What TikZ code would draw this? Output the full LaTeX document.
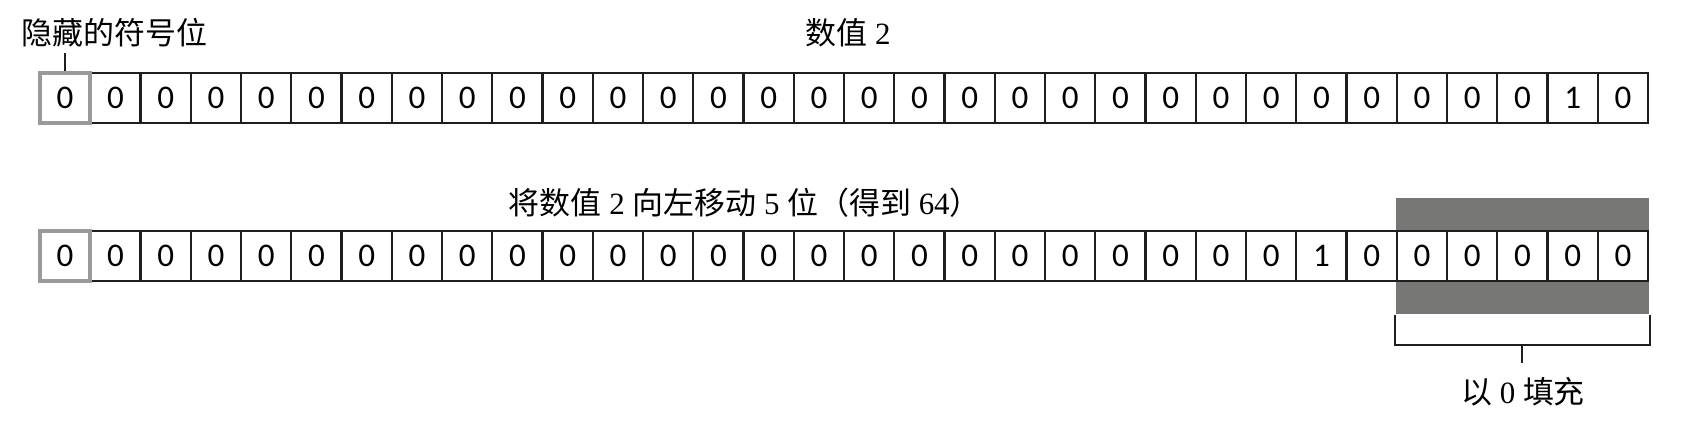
\documentclass[tikz,border=0pt]{standalone}
\usepackage{fontspec}
\setmainfont{Liberation Serif}
\newfontfamily\cjk{Noto Sans CJK SC}
\newfontfamily\bitfont{Carlito}
\usetikzlibrary{positioning,fit,backgrounds}
\definecolor{bitline}{HTML}{1E1E1E}
\definecolor{signgray}{HTML}{9A9A9A}
\definecolor{padgray}{HTML}{777876}

\begin{document}
\begin{tikzpicture}[
    x=0.01cm, y=-0.01cm,
    bit/.style={rectangle, draw=bitline, line width=0.7pt, fill=white,
      minimum size=0.5025cm, inner sep=0pt,
      font=\bitfont\fontsize{9.4}{10}\selectfont},
    signbit/.style={bit, draw=signgray, line width=1.1pt},
    lbl/.style={inner sep=0pt, font=\fontsize{8.8}{10}\selectfont},
    lien/.style={draw=bitline, line width=0.6pt}
  ]
    \useasboundingbox (0,0) rectangle (1698,430);

    % value 2
    \foreach \i in {1,...,31}
      \node[bit] (t\i) at (65.125+\i*50.25,98) {\ifnum\i=30 1\else 0\fi};
    \node[signbit] (t0) at (65.125,98) {0};

    % shifted left by 5
    \foreach \i in {1,...,31}
      \node[bit] (b\i) at (65.125+\i*50.25,256) {\ifnum\i=25 1\else 0\fi};
    \node[signbit] (b0) at (65.125,256) {0};

    \begin{scope}[on background layer]
      \node[fit=(b27)(b31), inner xsep=0pt, inner ysep=0.32cm,
        fill=padgray] (pad) {};
    \end{scope}

    \node[lbl, anchor=west] (signlbl) at (21,33) {\cjk 隐藏的符号位};
    \node[lbl] (vallbl) at (848,33) {{\cjk 数值} 2};
    \node[lbl, anchor=west] (shiftlbl) at (508,203)
      {{\cjk 将数值} 2 {\cjk 向左移动} 5 {\cjk 位（得到} 64{\cjk ）}};
    \node[lbl] (padlbl) at (1523,392) {{\cjk 以} 0 {\cjk 填充}};

    \draw[lien] (t0.north) -- ++(0,-18);
    \draw[lien] (pad.south west) -- ++(0,30) -| (pad.south east);
    \draw[lien] (pad.south) ++(0,30) -- ++(0,18);
  \end{tikzpicture}
\end{document}
